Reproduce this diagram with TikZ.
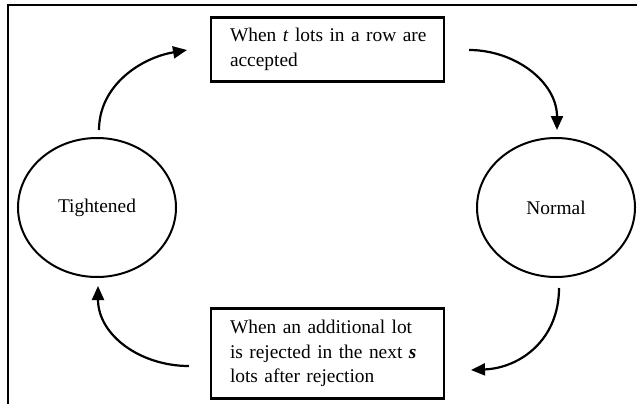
\documentclass[tikz,border=0pt]{standalone}
\usepackage{fontspec}
\setmainfont{Liberation Serif}
\usetikzlibrary{arrows.meta,shapes.geometric}
\begin{document}
\begin{tikzpicture}[x=1pt,y=-1pt,
  every node/.style={font=\fontsize{19.4}{24.5}\selectfont},
  state/.style={draw, ellipse, line width=2pt, minimum width=158pt, minimum height=139pt, inner sep=0pt},
  rulebox/.style={draw, rectangle, line width=2.6pt, text width=195pt, inner xsep=19pt, align=left},
  flow/.style={line width=2.2pt, -{Triangle[length=14pt,width=12pt]}},
  frameline/.style={line width=1.2pt}
]
\useasboundingbox (0,0) rectangle (637,404);

% partial frame (top and left edges)
\coordinate (ftr) at (637,5);
\coordinate (ftl) at (8,5);
\coordinate (fbl) at (8,404);
\draw[frameline] (ftr) -- (ftl) -- (fbl);

% states
\node[state] (tight) at (97,207.5) {Tightened};
\node[state] (normal) at (556,207.5) {Normal};

% switching rules
\node[rulebox, minimum height=64pt] (accept) at (327.5,49.5)
  {\mbox{When \textit{t} lots in a row are}\\accepted};
\node[rulebox, minimum height=90pt] (reject) at (327.5,353.5)
  {\mbox{When an additional lot}\\\mbox{is rejected in the next \textbf{\textit{s}}}\\lots after rejection};

% arrow end points
\coordinate (a1s) at (99,130);
\coordinate (a1e) at (187,50);
\coordinate (a2s) at (469,50);
\coordinate (a2e) at (557,130);
\coordinate (a3s) at (559,288);
\coordinate (a3e) at (471,370);
\coordinate (a4s) at (189,366);
\coordinate (a4e) at (98,286);

\draw[flow] (a1s) .. controls (99,86) and (140,58) .. (a1e);
\draw[flow] (a2s) .. controls (515,50) and (557,82) .. (a2e);
\draw[flow] (a3s) .. controls (559,340) and (520,368) .. (a3e);
\draw[flow] (a4s) .. controls (140,366) and (98,335) .. (a4e);
\end{tikzpicture}
\end{document}
